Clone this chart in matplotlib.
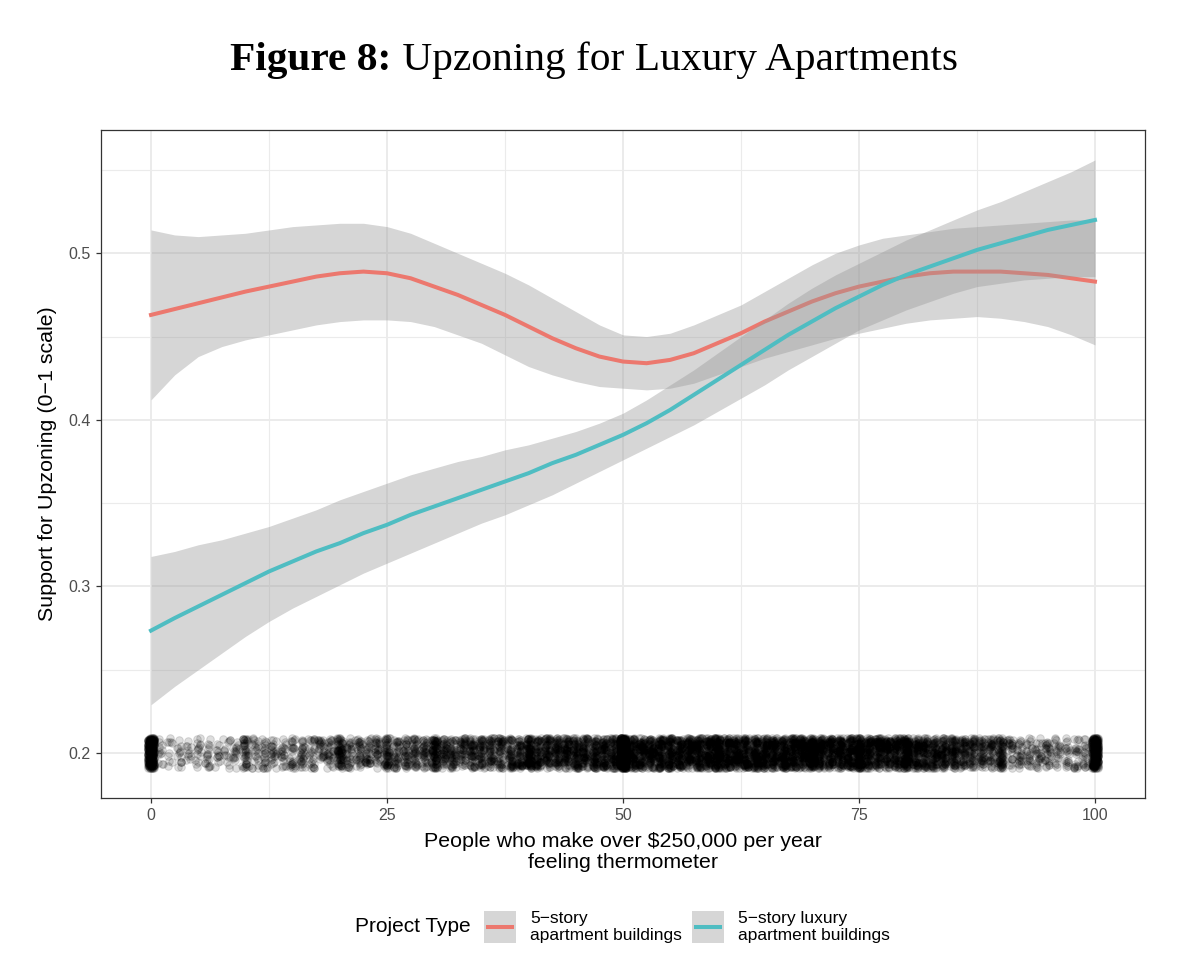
import numpy as np
import matplotlib
matplotlib.use('Agg')
from matplotlib import pyplot as plt
from matplotlib.patches import Rectangle
from matplotlib.lines import Line2D

plt.rcParams['font.family'] = ['Liberation Sans', 'DejaVu Sans']

# smoothed fits, every 2.5 points of the thermometer
therm = [0, 2.5, 5, 7.5, 10, 12.5, 15, 17.5, 20, 22.5, 25, 27.5, 30, 32.5, 35, 37.5, 40,
         42.5, 45, 47.5, 50, 52.5, 55, 57.5, 60, 62.5, 65, 67.5, 70, 72.5, 75, 77.5, 80,
         82.5, 85, 87.5, 90, 92.5, 95, 97.5, 100]

plain_fit = [0.463, 0.4665, 0.470, 0.4735, 0.477, 0.480, 0.483, 0.486, 0.488, 0.489, 0.488,
             0.485, 0.480, 0.475, 0.469, 0.463, 0.456, 0.449, 0.443, 0.438, 0.435, 0.434,
             0.436, 0.440, 0.446, 0.452, 0.459, 0.465, 0.471, 0.476, 0.480, 0.483, 0.486,
             0.488, 0.489, 0.489, 0.489, 0.488, 0.487, 0.485, 0.483]
plain_hi = [0.514, 0.511, 0.510, 0.511, 0.512, 0.514, 0.516, 0.517, 0.518, 0.518, 0.516,
            0.512, 0.506, 0.500, 0.494, 0.488, 0.481, 0.473, 0.465, 0.457, 0.451, 0.450,
            0.452, 0.457, 0.463, 0.469, 0.477, 0.485, 0.493, 0.500, 0.505, 0.509, 0.511,
            0.513, 0.515, 0.516, 0.517, 0.518, 0.519, 0.520, 0.520]
plain_lo = [0.412, 0.427, 0.438, 0.444, 0.448, 0.451, 0.454, 0.457, 0.459, 0.460, 0.460,
            0.459, 0.456, 0.451, 0.446, 0.439, 0.432, 0.427, 0.423, 0.420, 0.419, 0.418,
            0.419, 0.422, 0.427, 0.432, 0.437, 0.441, 0.445, 0.449, 0.452, 0.455, 0.458,
            0.460, 0.461, 0.462, 0.461, 0.459, 0.456, 0.451, 0.445]

lux_fit = [0.2735, 0.281, 0.288, 0.295, 0.302, 0.309, 0.315, 0.321, 0.326, 0.332, 0.337,
           0.343, 0.348, 0.353, 0.358, 0.363, 0.368, 0.374, 0.379, 0.385, 0.391, 0.398,
           0.406, 0.415, 0.424, 0.433, 0.442, 0.451, 0.459, 0.467, 0.474, 0.481, 0.487,
           0.492, 0.497, 0.502, 0.506, 0.510, 0.514, 0.517, 0.520]
lux_hi = [0.318, 0.321, 0.325, 0.328, 0.332, 0.336, 0.341, 0.346, 0.352, 0.357, 0.362,
          0.367, 0.371, 0.375, 0.378, 0.382, 0.385, 0.389, 0.393, 0.398, 0.404, 0.412,
          0.421, 0.430, 0.440, 0.450, 0.460, 0.470, 0.479, 0.487, 0.494, 0.501, 0.508,
          0.514, 0.520, 0.526, 0.531, 0.537, 0.543, 0.549, 0.556]
lux_lo = [0.229, 0.240, 0.250, 0.260, 0.270, 0.279, 0.287, 0.294, 0.301, 0.308, 0.314,
          0.320, 0.326, 0.332, 0.338, 0.343, 0.349, 0.355, 0.362, 0.369, 0.376, 0.383,
          0.390, 0.397, 0.405, 0.413, 0.421, 0.430, 0.438, 0.446, 0.454, 0.460, 0.466,
          0.471, 0.476, 0.480, 0.482, 0.484, 0.485, 0.486, 0.486]

# respondents per thermometer value (0..100), estimated from the rug density
rug_counts = [300,
              12, 10, 14, 11, 16, 18, 13, 15, 17, 45,
              22, 24, 26, 22, 28, 32, 27, 29, 31, 80,
              34, 36, 38, 36, 65, 42, 44, 47, 45, 100,
              52, 56, 54, 60, 62, 58, 60, 63, 66, 115,
              75, 80, 78, 84, 86, 82, 86, 90, 88, 500,
              98, 102, 96, 104, 106, 100, 104, 108, 110, 150,
              108, 106, 110, 112, 108, 110, 114, 112, 110, 160,
              106, 104, 108, 104, 150, 100, 102, 98, 96, 150,
              90, 86, 84, 80, 85, 64, 60, 54, 50, 80,
              30, 28, 25, 27, 30, 22, 20, 24, 22, 240]
rug_level = 0.2

x_ticks = [0, 25, 50, 75, 100]
y_ticks = [0.2, 0.3, 0.4, 0.5]

red = '#EC786E'
teal = '#4FBDC2'
band = '#999999'

fig = plt.figure(figsize=(11.94, 9.76), dpi=100)
ax = fig.add_axes([101/1194, 178/976, 1044/1194, 668/976])

# jittered rug (jitter is only for display, like geom_jitter)
rng = np.random.default_rng(8)
rug_x = np.repeat(np.arange(len(rug_counts)), rug_counts).astype(float)
jx = rug_x + rng.uniform(-0.35, 0.35, len(rug_x))
jy = rug_level + rng.uniform(-0.0092, 0.0092, len(rug_x))
ax.scatter(jx, jy, s=30, c='black', alpha=0.13, edgecolors='black', linewidths=0.7, zorder=2)

ax.fill_between(therm, plain_lo, plain_hi, color=band, alpha=0.4, lw=0, zorder=3)
ax.plot(therm, plain_fit, color=red, lw=2.9, zorder=3)
ax.fill_between(therm, lux_lo, lux_hi, color=band, alpha=0.4, lw=0, zorder=3)
ax.plot(therm, lux_fit, color=teal, lw=2.9, zorder=3)

ax.set_xlim(-5.3, 105.3)
ax.set_ylim(0.173, 0.574)
ax.set_xticks(x_ticks)
ax.set_xticklabels([str(t) for t in x_ticks])
ax.set_yticks(y_ticks)
ax.set_yticklabels(['%.1f' % t for t in y_ticks])
ax.set_xticks([12.5, 37.5, 62.5, 87.5], minor=True)
ax.set_yticks([0.25, 0.35, 0.45, 0.55], minor=True)
ax.grid(which='major', color='#EBEBEB', lw=1.4, zorder=0)
ax.grid(which='minor', color='#EBEBEB', lw=0.8, zorder=0)
ax.set_axisbelow(True)
ax.tick_params(which='major', length=3.5, width=0.9, color='#333333', labelcolor='#4D4D4D',
               labelsize=11.5, pad=4)
ax.tick_params(which='minor', length=0)
for sp in ax.spines.values():
    sp.set_color('#333333')
    sp.set_linewidth(0.9)

fig.text(48/1194, 1 - 464/976, 'Support for Upzoning (0\u22121 scale)', rotation=90,
         ha='center', va='center', size=15.4, color='black')
fig.text(623/1194, 1 - 852/976, 'People who make over $250,000 per year\nfeeling thermometer',
         ha='center', va='center', size=15.4, linespacing=1.12, multialignment='center')

# title: bold lead + regular rest, centred together
t1 = fig.text(0, 1 - 70/976, 'Figure 8:', family='Liberation Serif', weight='bold', size=29.8,
              va='baseline')
t2 = fig.text(0, 1 - 70/976, ' Upzoning for Luxury Apartments', family='Liberation Serif',
              size=29.8, va='baseline')
r = fig.canvas.get_renderer()
w1 = t1.get_window_extent(r).width
w2 = t2.get_window_extent(r).width
left = 594 - (w1 + w2) / 2
t1.set_x(left / 1194)
t2.set_x((left + w1) / 1194)

# legend along the bottom
leg_y = 1 - 927/976
fig.text(355/1194, leg_y, 'Project Type', ha='left', va='center', size=15)
keys = [(484, red, '5\u2212story\napartment buildings'),
        (692, teal, '5\u2212story luxury\napartment buildings')]
for kx, col, lab in keys:
    fig.patches.append(Rectangle((kx/1194, 1 - 943/976), 32/1194, 32/976,
                                 transform=fig.transFigure, facecolor='#D6D6D6', lw=0))
    fig.lines.append(Line2D([(kx + 4)/1194, (kx + 28)/1194], [leg_y, leg_y],
                            transform=fig.transFigure, color=col, lw=2.9))
    fig.text((kx + 46)/1194, leg_y, lab, ha='left', va='center', size=12.5, linespacing=1.12)

fig.savefig('out.png', dpi=100)
